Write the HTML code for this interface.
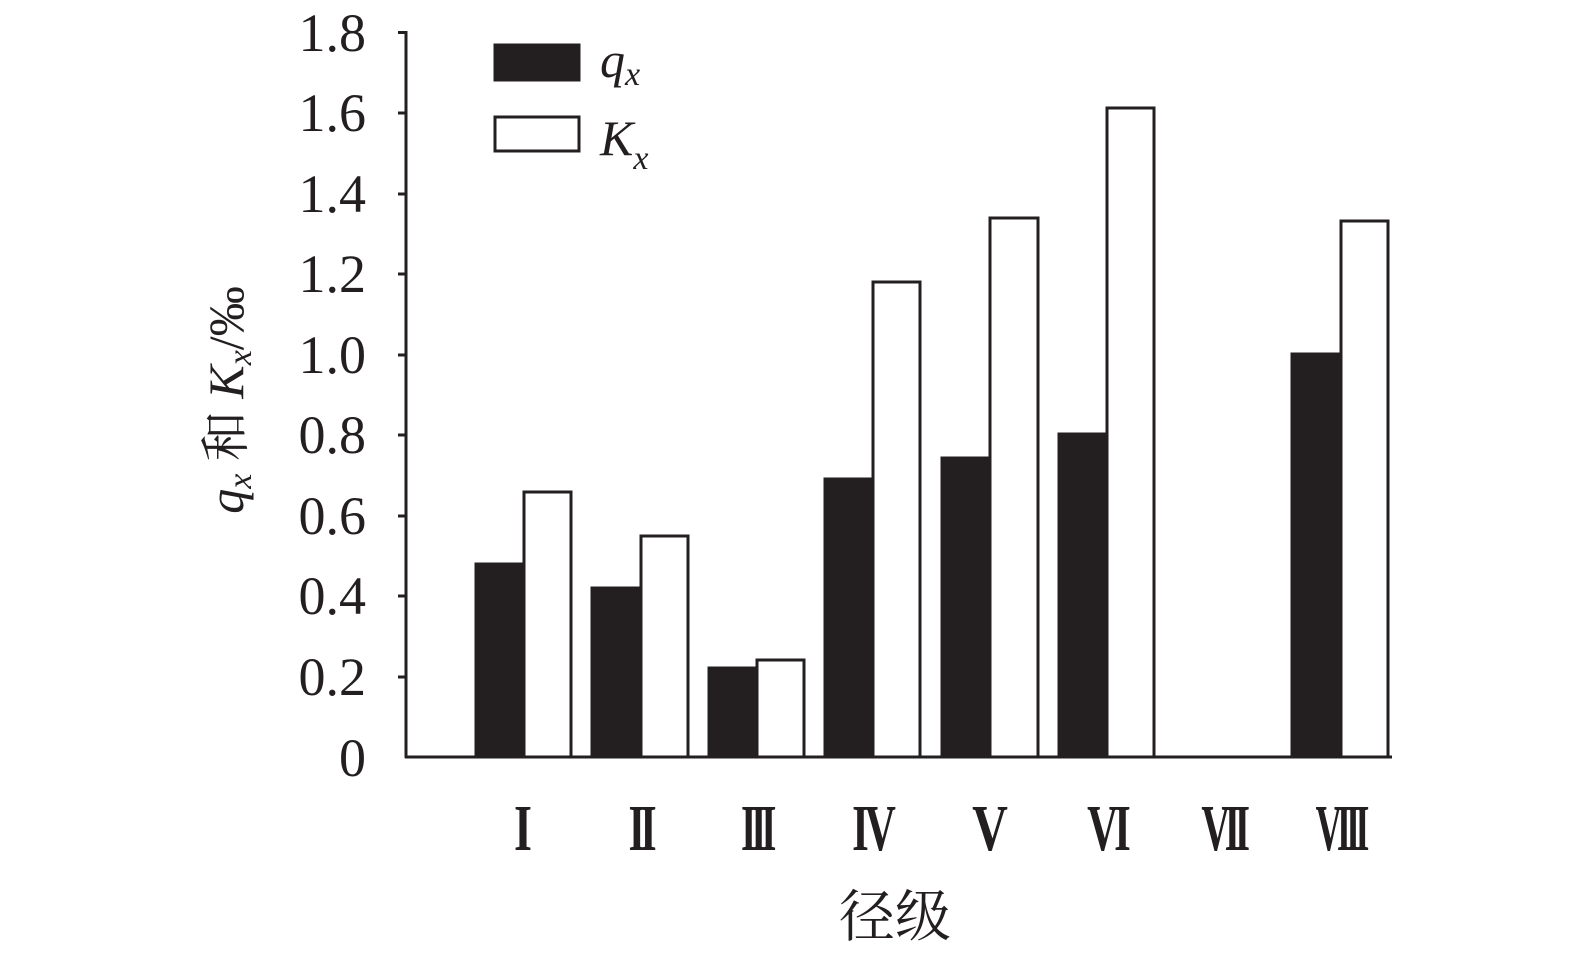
<!DOCTYPE html>
<html><head><meta charset="utf-8"><style>
html,body{margin:0;padding:0;background:#fff;}
svg{display:block;}
</style></head><body>
<svg width="1575" height="953" viewBox="0 0 1575 953" xmlns="http://www.w3.org/2000/svg" font-family="'Liberation Serif','Noto Serif CJK SC',serif">
<rect width="1575" height="953" fill="#fff"/>
<line x1="406" y1="31" x2="406" y2="758" stroke="#231f20" stroke-width="3"/>
<line x1="405" y1="757" x2="1392" y2="757" stroke="#231f20" stroke-width="3"/>
<g stroke="#231f20" stroke-width="3">
<line x1="398" y1="32.5" x2="406" y2="32.5"/>
<line x1="398" y1="113" x2="406" y2="113"/>
<line x1="398" y1="194" x2="406" y2="194"/>
<line x1="398" y1="274" x2="406" y2="274"/>
<line x1="398" y1="355" x2="406" y2="355"/>
<line x1="398" y1="435" x2="406" y2="435"/>
<line x1="398" y1="516" x2="406" y2="516"/>
<line x1="398" y1="596" x2="406" y2="596"/>
<line x1="398" y1="677" x2="406" y2="677"/>
</g>
<g font-size="54" fill="#231f20" text-anchor="end">
<text x="366" y="51">1.8</text>
<text x="366" y="131">1.6</text>
<text x="366" y="212">1.4</text>
<text x="366" y="292">1.2</text>
<text x="366" y="373">1.0</text>
<text x="366" y="453">0.8</text>
<text x="366" y="534">0.6</text>
<text x="366" y="614">0.4</text>
<text x="366" y="695">0.2</text>
<text x="366" y="776">0</text>
</g>
<g stroke="#231f20" stroke-width="3">
<rect x="476" y="564" width="48" height="193" fill="#231f20"/>
<rect x="524" y="492" width="47" height="265" fill="#fff"/>
<rect x="592" y="588" width="49" height="169" fill="#231f20"/>
<rect x="641" y="536" width="47" height="221" fill="#fff"/>
<rect x="709" y="668" width="48" height="89" fill="#231f20"/>
<rect x="757" y="660" width="47" height="97" fill="#fff"/>
<rect x="825" y="479" width="48" height="278" fill="#231f20"/>
<rect x="873" y="282" width="47" height="475" fill="#fff"/>
<rect x="942" y="458" width="48" height="299" fill="#231f20"/>
<rect x="990" y="218" width="48" height="539" fill="#fff"/>
<rect x="1059" y="434" width="48" height="323" fill="#231f20"/>
<rect x="1107" y="108" width="47" height="649" fill="#fff"/>
<rect x="1292" y="354" width="49" height="403" fill="#231f20"/>
<rect x="1341" y="221" width="47" height="536" fill="#fff"/>
</g>
<g font-size="66" font-weight="bold" fill="#231f20" text-anchor="middle">
<text transform="translate(523 850) scale(0.7 1)">I</text>
<text transform="translate(640 850) scale(0.65 1)" letter-spacing="-8">II</text>
<text transform="translate(756 850) scale(0.6 1)" letter-spacing="-9">III</text>
<text transform="translate(872 850) scale(0.65 1)" letter-spacing="-6">IV</text>
<text transform="translate(990 850) scale(0.75 1)">V</text>
<text transform="translate(1107 850) scale(0.65 1)" letter-spacing="-6">VI</text>
<text transform="translate(1223 850) scale(0.6 1)" letter-spacing="-9">VII</text>
<text transform="translate(1340 850) scale(0.55 1)" letter-spacing="-9">VIII</text>
</g>
<text x="895" y="936" font-size="56" text-anchor="middle" fill="#231f20">径级</text>
<rect x="495" y="45" width="84" height="35" fill="#231f20" stroke="#231f20" stroke-width="3"/>
<rect x="495" y="117" width="84" height="34" fill="#fff" stroke="#231f20" stroke-width="3"/>
<text x="600" y="77" font-size="50" font-style="italic" fill="#231f20">q<tspan font-size="34" dy="8">x</tspan></text>
<text x="600" y="155" font-size="50" font-style="italic" fill="#231f20">K<tspan font-size="34" dy="14">x</tspan></text>
<text transform="translate(243 400) rotate(-90)" font-size="50" text-anchor="middle" fill="#231f20"><tspan font-style="italic">q</tspan><tspan font-style="italic" font-size="34" dy="8">x</tspan><tspan dy="-8"> 和 </tspan><tspan font-style="italic">K</tspan><tspan font-style="italic" font-size="34" dy="8">x</tspan><tspan dy="-8">/‰</tspan></text>
</svg>
</body></html>
